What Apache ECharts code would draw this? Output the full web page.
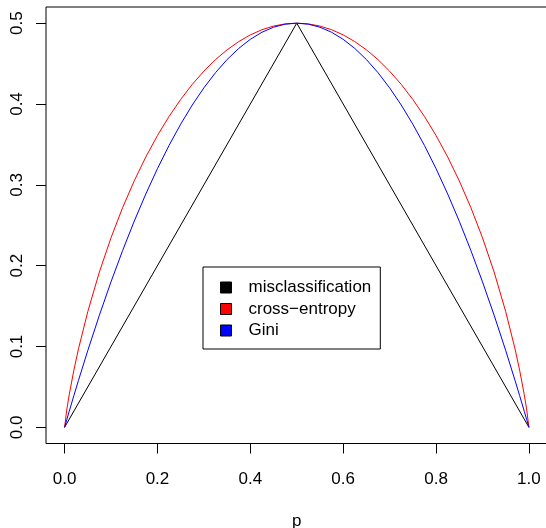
<!DOCTYPE html>
<html>
<head>
<meta charset="utf-8">
<script src="https://cdn.jsdelivr.net/npm/echarts@6/dist/echarts.min.js"></script>
<style>
  html, body { margin: 0; padding: 0; background: #fff; }
  #chart { width: 546px; height: 528px; }
</style>
</head>
<body>
<div id="chart"></div>
<script>
// Node impurity measures for a two-class split, as a function of p
const p = [0, 0.005, 0.01, 0.02, 0.03, 0.05, 0.075, 0.1, 0.125, 0.15, 0.175, 0.2, 0.225, 0.25,
  0.275, 0.3, 0.325, 0.35, 0.375, 0.4, 0.425, 0.45, 0.475, 0.5, 0.525, 0.55, 0.575, 0.6, 0.625,
  0.65, 0.675, 0.7, 0.725, 0.75, 0.775, 0.8, 0.825, 0.85, 0.875, 0.9, 0.925, 0.95, 0.97, 0.98,
  0.99, 0.995, 1];

const crossEntropy = [0, 0.0227, 0.0404, 0.0707, 0.0972, 0.1432, 0.1922, 0.2345, 0.2718, 0.3049,
  0.3345, 0.3610, 0.3846, 0.4056, 0.4243, 0.4406, 0.4549, 0.4670, 0.4772, 0.4855, 0.4919, 0.4964,
  0.4991, 0.5, 0.4991, 0.4964, 0.4919, 0.4855, 0.4772, 0.4670, 0.4549, 0.4406, 0.4243, 0.4056,
  0.3846, 0.3610, 0.3345, 0.3049, 0.2718, 0.2345, 0.1922, 0.1432, 0.0972, 0.0707, 0.0404, 0.0227, 0];

const gini = [0, 0.00995, 0.0198, 0.0392, 0.0582, 0.095, 0.13875, 0.18, 0.21875, 0.255, 0.28875,
  0.32, 0.34875, 0.375, 0.39875, 0.42, 0.43875, 0.455, 0.46875, 0.48, 0.48875, 0.495, 0.49875, 0.5,
  0.49875, 0.495, 0.48875, 0.48, 0.46875, 0.455, 0.43875, 0.42, 0.39875, 0.375, 0.34875, 0.32,
  0.28875, 0.255, 0.21875, 0.18, 0.13875, 0.095, 0.0582, 0.0392, 0.0198, 0.00995, 0];

const misclassP = [0, 0.5, 1];
const misclassification = [0, 0.5, 0];

const xTicks = [0, 0.2, 0.4, 0.6, 0.8, 1.0];
const yTicks = [0, 0.1, 0.2, 0.3, 0.4, 0.5];

const seriesNames = ['misclassification', 'cross\u2212entropy', 'Gini'];
const seriesColors = ['#000000', '#ff0000', '#0000ff'];

const font = '"Liberation Sans", Arial, Helvetica, sans-serif';

function pairs(xs, ys) {
  return xs.map((x, i) => [x, ys[i]]);
}

const chart = echarts.init(document.getElementById('chart'), null, { renderer: 'canvas' });

chart.setOption({
  animation: false,
  backgroundColor: '#ffffff',
  textStyle: { fontFamily: font },
  grid: {
    left: 46, top: 7, width: 501.5, height: 436.5,
    outerBoundsMode: 'none', containLabel: false,
    show: true, borderColor: '#000', borderWidth: 1, backgroundColor: 'transparent'
  },
  xAxis: {
    type: 'value', min: -0.04, max: 1.04,
    name: 'p', nameLocation: 'middle', nameGap: 69,
    nameTextStyle: { fontSize: 17, color: '#000', fontFamily: font },
    axisLine: { show: false, onZero: false },
    splitLine: { show: false },
    axisTick: { show: true, inside: false, length: 10, customValues: xTicks,
      lineStyle: { color: '#000', width: 1 } },
    axisLabel: { customValues: xTicks, margin: 27, fontSize: 17, color: '#000', fontFamily: font,
      formatter: v => v.toFixed(1) }
  },
  yAxis: {
    type: 'value', min: -0.02, max: 0.52,
    axisLine: { show: false, onZero: false },
    splitLine: { show: false },
    axisTick: { show: true, inside: false, length: 10, customValues: yTicks,
      lineStyle: { color: '#000', width: 1 } },
    axisLabel: { customValues: yTicks, margin: 20, rotate: 90, fontSize: 17, color: '#000',
      fontFamily: font, formatter: v => v.toFixed(1) }
  },
  legend: {
    orient: 'vertical', left: 203, top: 267,
    backgroundColor: '#fff', borderColor: '#000', borderWidth: 1, borderRadius: 0,
    padding: [12, 9, 10, 17],
    itemWidth: 11, itemHeight: 11, itemGap: 4.5,
    icon: 'rect',
    textStyle: { fontSize: 17, lineHeight: 17, color: '#000', fontFamily: font,
      padding: [0, 0, 0, 12] },
    data: seriesNames.map((n, i) => ({
      name: n, icon: 'rect',
      itemStyle: { color: seriesColors[i], borderColor: '#000', borderWidth: 1 }
    }))
  },
  series: [
    { name: seriesNames[0], type: 'line', data: pairs(misclassP, misclassification),
      showSymbol: false, lineStyle: { color: seriesColors[0], width: 1 }, itemStyle: { color: seriesColors[0] } },
    { name: seriesNames[1], type: 'line', data: pairs(p, crossEntropy),
      showSymbol: false, lineStyle: { color: seriesColors[1], width: 1 }, itemStyle: { color: seriesColors[1] } },
    { name: seriesNames[2], type: 'line', data: pairs(p, gini),
      showSymbol: false, lineStyle: { color: seriesColors[2], width: 1 }, itemStyle: { color: seriesColors[2] } }
  ]
});
</script>
</body>
</html>
